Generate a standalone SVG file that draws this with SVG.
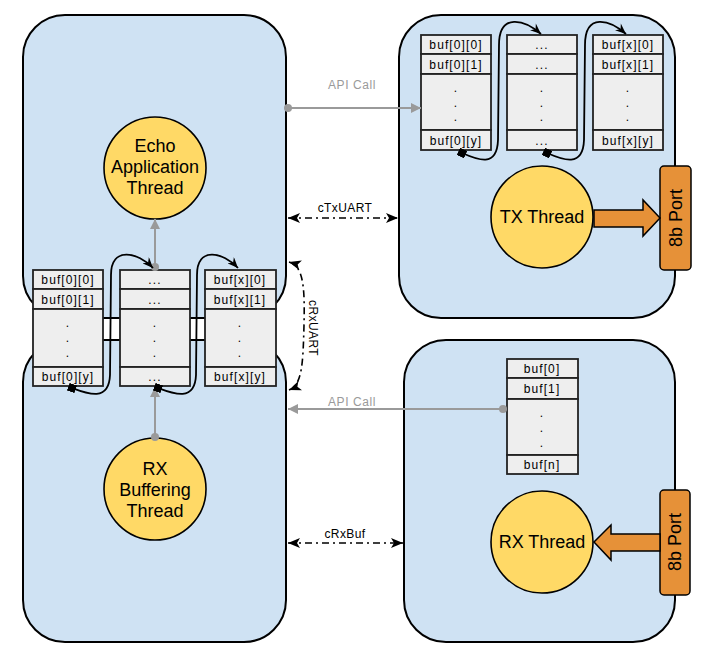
<svg xmlns="http://www.w3.org/2000/svg" width="701" height="658" viewBox="0 0 701 658">
<defs>
<style>
.box{fill:#CFE2F3;stroke:#000;stroke-width:2}
.th{fill:#FFD966;stroke:#000;stroke-width:1.6}
.port{fill:#E69138;stroke:#000;stroke-width:1.5}
.buf{fill:#EEEEEE;stroke:#222;stroke-width:1.8}
.bt{font-family:"Liberation Sans",Arial,sans-serif;font-size:12px;letter-spacing:1.1px;text-anchor:middle;fill:#000}
.big{font-family:"Liberation Sans",Arial,sans-serif;font-size:18px;text-anchor:middle;fill:#000}
.lbl{font-family:"Liberation Sans",Arial,sans-serif;font-size:12px;text-anchor:middle;fill:#000;letter-spacing:0.4px}
.glbl{font-family:"Liberation Sans",Arial,sans-serif;font-size:12px;text-anchor:middle;fill:#9A9A9A;letter-spacing:0.6px}
.gray{fill:none;stroke:#9A9A9A;stroke-width:2;marker-start:url(#gdot);marker-end:url(#garr)}
.dash{fill:none;stroke:#000;stroke-width:1.6;stroke-dasharray:7 4 2 4;marker-start:url(#barr);marker-end:url(#barr)}
.link{fill:none;stroke:#000;stroke-width:1.8;marker-start:url(#sq);marker-end:url(#larr)}
</style>
<marker id="garr" viewBox="0 0 10 10" refX="10" refY="5" markerWidth="11" markerHeight="10" markerUnits="userSpaceOnUse" orient="auto"><path d="M0,0 L10,5 L0,10 z" fill="#9A9A9A"/></marker>
<marker id="gdot" viewBox="0 0 10 10" refX="5" refY="5" markerWidth="8" markerHeight="8" markerUnits="userSpaceOnUse" orient="auto"><circle cx="5" cy="5" r="5" fill="#9A9A9A"/></marker>
<marker id="barr" viewBox="0 0 12 10" refX="12" refY="5" markerWidth="12" markerHeight="10" markerUnits="userSpaceOnUse" orient="auto-start-reverse"><path d="M0,0 L12,5 L0,10 L3,5 z" fill="#000"/></marker>
<marker id="larr" viewBox="0 0 12 10" refX="12" refY="5" markerWidth="12" markerHeight="9" markerUnits="userSpaceOnUse" orient="auto"><path d="M0,0 L12,5 L0,10 L4,5 z" fill="#000"/></marker>
<marker id="sq" viewBox="0 0 10 10" refX="5" refY="5" markerWidth="8" markerHeight="8" markerUnits="userSpaceOnUse" orient="auto"><rect x="0" y="0" width="10" height="10" fill="#000"/></marker>
</defs>

<g id="containers">
<rect id="echo-box" class="box" x="23" y="15" width="263" height="303" rx="42"/>
<rect id="rxbuf-box" class="box" x="23" y="340" width="263" height="302" rx="42"/>
<rect id="tx-box" class="box" x="399" y="15" width="276" height="303" rx="42"/>
<rect id="rx-box" class="box" x="404" y="340" width="271" height="302" rx="42"/>
</g>

<g id="tx-buffers">
<g id="tx-buf-0">
<rect class="buf" x="421" y="35" width="70" height="19"/><rect class="buf" x="421" y="54" width="70" height="20"/><rect class="buf" x="421" y="74" width="70" height="56"/><rect class="buf" x="421" y="130" width="70" height="20"/>
<text class="bt" x="456" y="49">buf[0][0]</text><text class="bt" x="456" y="69">buf[0][1]</text>
<text class="bt" x="456" y="92">.</text><text class="bt" x="456" y="107">.</text><text class="bt" x="456" y="121">.</text>
<text class="bt" x="456" y="145">buf[0][y]</text>
</g>
<g id="tx-buf-mid">
<rect class="buf" x="507" y="35" width="70" height="19"/><rect class="buf" x="507" y="54" width="70" height="20"/><rect class="buf" x="507" y="74" width="70" height="56"/><rect class="buf" x="507" y="130" width="70" height="20"/>
<text class="bt" x="542" y="49">...</text><text class="bt" x="542" y="69">...</text>
<text class="bt" x="542" y="92">.</text><text class="bt" x="542" y="107">.</text><text class="bt" x="542" y="121">.</text>
<text class="bt" x="542" y="145">...</text>
</g>
<g id="tx-buf-x">
<rect class="buf" x="593" y="35" width="70" height="19"/><rect class="buf" x="593" y="54" width="70" height="20"/><rect class="buf" x="593" y="74" width="70" height="56"/><rect class="buf" x="593" y="130" width="70" height="20"/>
<text class="bt" x="628" y="49">buf[x][0]</text><text class="bt" x="628" y="69">buf[x][1]</text>
<text class="bt" x="628" y="92">.</text><text class="bt" x="628" y="107">.</text><text class="bt" x="628" y="121">.</text>
<text class="bt" x="628" y="145">buf[x][y]</text>
</g>
</g>

<g id="rx-buffers">
<g id="rx-buf-0">
<rect class="buf" x="33" y="270" width="70" height="19"/><rect class="buf" x="33" y="289" width="70" height="20"/><rect class="buf" x="33" y="309" width="70" height="58"/><rect class="buf" x="33" y="367" width="70" height="19"/>
<text class="bt" x="68" y="284">buf[0][0]</text><text class="bt" x="68" y="304">buf[0][1]</text>
<text class="bt" x="68" y="327">.</text><text class="bt" x="68" y="342">.</text><text class="bt" x="68" y="357">.</text>
<text class="bt" x="68" y="381">buf[0][y]</text>
</g>
<g id="rx-buf-mid">
<rect class="buf" x="120" y="270" width="70" height="19"/><rect class="buf" x="120" y="289" width="70" height="20"/><rect class="buf" x="120" y="309" width="70" height="58"/><rect class="buf" x="120" y="367" width="70" height="19"/>
<text class="bt" x="155" y="284">...</text><text class="bt" x="155" y="304">...</text>
<text class="bt" x="155" y="327">.</text><text class="bt" x="155" y="342">.</text><text class="bt" x="155" y="357">.</text>
<text class="bt" x="155" y="381">...</text>
</g>
<g id="rx-buf-x">
<rect class="buf" x="205" y="270" width="71" height="19"/><rect class="buf" x="205" y="289" width="71" height="20"/><rect class="buf" x="205" y="309" width="71" height="58"/><rect class="buf" x="205" y="367" width="71" height="19"/>
<text class="bt" x="240" y="284">buf[x][0]</text><text class="bt" x="240" y="304">buf[x][1]</text>
<text class="bt" x="240" y="327">.</text><text class="bt" x="240" y="342">.</text><text class="bt" x="240" y="357">.</text>
<text class="bt" x="240" y="381">buf[x][y]</text>
</g>
</g>

<g id="rx-ring-buffer">
<rect class="buf" x="507" y="359" width="71" height="19"/><rect class="buf" x="507" y="378" width="71" height="21"/><rect class="buf" x="507" y="399" width="71" height="56"/><rect class="buf" x="507" y="455" width="71" height="19"/>
<text class="bt" x="542" y="373">buf[0]</text><text class="bt" x="542" y="393">buf[1]</text>
<text class="bt" x="542" y="417">.</text><text class="bt" x="542" y="432">.</text><text class="bt" x="542" y="447">.</text>
<text class="bt" x="542" y="469">buf[n]</text>
</g>

<g id="echo-thread">
<circle class="th" cx="155" cy="168" r="51"/>
<text class="big" x="155" y="152">Echo</text>
<text class="big" x="155" y="173">Application</text>
<text class="big" x="155" y="194">Thread</text>
</g>
<g id="rx-buffering-thread">
<circle class="th" cx="155" cy="489" r="51"/>
<text class="big" x="155" y="475">RX</text>
<text class="big" x="155" y="496">Buffering</text>
<text class="big" x="155" y="517">Thread</text>
</g>
<g id="tx-thread">
<circle class="th" cx="542" cy="217" r="51"/>
<text class="big" x="542" y="223">TX Thread</text>
</g>
<g id="rx-thread">
<circle class="th" cx="542" cy="542" r="51"/>
<text class="big" x="542" y="548">RX Thread</text>
</g>
<g id="tx-port">
<rect class="port" x="660" y="166" width="31" height="104" rx="4"/>
<text class="big" transform="translate(682,218) rotate(-90)" x="0" y="0">8b Port</text>
</g>
<g id="rx-port">
<rect class="port" x="660" y="490" width="30" height="105" rx="4"/>
<text class="big" transform="translate(681,542) rotate(-90)" x="0" y="0">8b Port</text>
</g>

<g id="connectors">
<polygon class="port" points="594,210 643,210 643,200 660,218 643,236 643,227 594,227"/>
<polygon class="port" points="660,534 611,534 611,525 594,542 611,560 611,551 660,551"/>
<path class="gray" d="M288,108 L421,108"/>
<text class="glbl" x="352" y="89">API Call</text>
<path class="gray" d="M503,409 L288,409"/>
<text class="glbl" x="352" y="406">API Call</text>
<path class="gray" d="M155,267 L155,219"/>
<path class="gray" d="M155,437 L155,387"/>
<path class="dash" d="M288,218 L398,218"/>
<text class="lbl" x="345" y="212">cTxUART</text>
<path class="dash" d="M289,262 C303,266 305,285 304,325 C303,365 302,385 289,390"/>
<text class="lbl" transform="translate(309,328) rotate(90)" x="0" y="0">cRxUART</text>
<path class="dash" d="M288,543 L403,543"/>
<text class="lbl" x="345" y="538">cRxBuf</text>
<path class="link" d="M462,153 C478,160 497,168 498,140 L499,45 C499,12 525,20 541,34"/>
<path class="link" d="M547,153 C563,160 583,168 584,140 L585,45 C585,12 610,20 626,34"/>
<path class="link" d="M72,388 C88,394 109,402 110,375 L111,275 C111,246 138,252 153,268"/>
<path class="link" d="M158,388 C174,394 195,402 196,375 L197,275 C197,246 223,252 238,268"/>
</g>
</svg>
